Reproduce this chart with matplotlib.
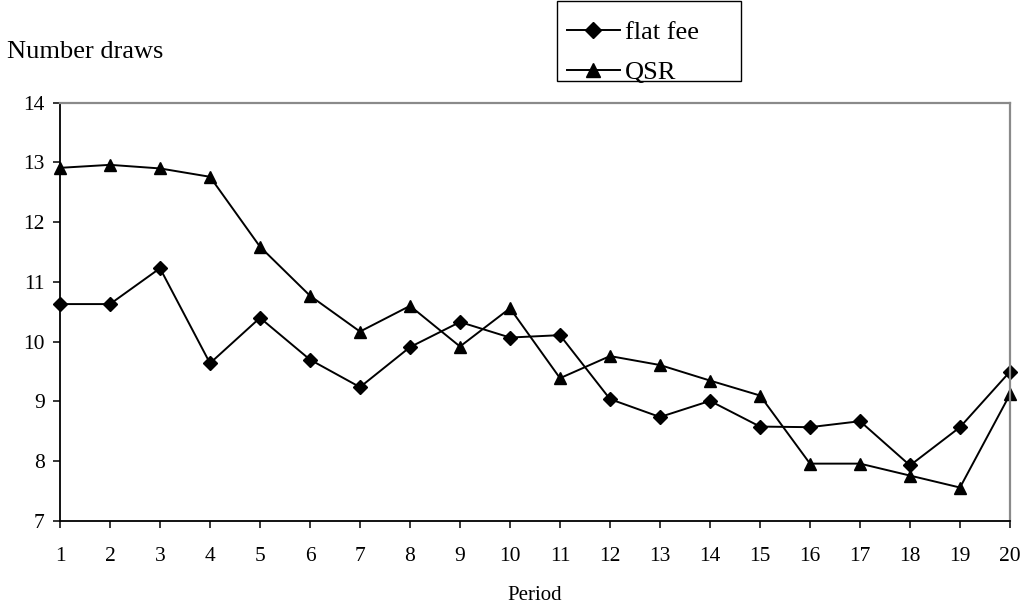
import matplotlib
matplotlib.use("Agg")
import matplotlib.pyplot as plt
from matplotlib.patches import Rectangle

periods = list(range(1, 21))
flat_fee = [10.63, 10.63, 11.23, 9.64, 10.40, 9.70, 9.24, 9.91, 10.33, 10.07,
            10.11, 9.04, 8.74, 9.01, 8.58, 8.57, 8.67, 7.93, 8.57, 9.50]
qsr = [12.91, 12.96, 12.90, 12.76, 11.59, 10.77, 10.17, 10.60, 9.92, 10.56,
       9.39, 9.76, 9.61, 9.35, 9.10, 7.96, 7.96, 7.76, 7.56, 9.12]
y_ticks = [7, 8, 9, 10, 11, 12, 13, 14]

plt.rcParams["font.family"] = ["Liberation Serif", "DejaVu Serif"]

W, H = 1026, 610
fig = plt.figure(figsize=(W / 100, H / 100), dpi=100)
ax = fig.add_axes([60 / W, (H - 521) / H, (1010 - 60) / W, (521 - 102.7) / H])

ax.plot(periods, flat_fee, color="black", lw=1.4, marker="D", ms=7.5,
        label="flat fee", clip_on=False)
ax.plot(periods, qsr, color="black", lw=1.4, marker="^", ms=9,
        label="QSR", clip_on=False)

ax.set_xlim(1, 20)
ax.set_ylim(7, 14)
ax.set_xticks(periods)
ax.set_yticks(y_ticks)
ax.tick_params(axis="both", direction="out", length=5, width=1.1,
               labelsize=15.5, colors="black")
ax.tick_params(axis="x", pad=14)
ax.tick_params(axis="y", pad=6)

for side in ("left", "bottom"):
    ax.spines[side].set_color("black")
    ax.spines[side].set_linewidth(1.3)
for side in ("top", "right"):
    ax.spines[side].set_color("#8a8a8a")
    ax.spines[side].set_linewidth(1.6)
for spine in ax.spines.values():
    spine.set_clip_on(False)

ax.set_xlabel("Period", fontsize=15, labelpad=14)

fig.text(7 / W, 1 - 52 / H, "Number draws", fontsize=19, va="center",
         ha="left")

# legend box with a wide right margin, kept behind the legend entries
fig.patches.append(Rectangle((557 / W, 1 - 80.7 / H), (741 - 557) / W,
                             80 / H, transform=fig.transFigure,
                             facecolor="white", edgecolor="black", lw=1.0,
                             zorder=-1))
leg = ax.legend(loc="upper left", bbox_to_anchor=(567 / W, 1 - 21 / H),
                bbox_transform=fig.transFigure, fontsize=19,
                frameon=False, handlelength=2.0, markerscale=1.15,
                handletextpad=0.2, labelspacing=0.6, borderpad=0,
                borderaxespad=0)

fig.savefig("out.png", dpi=100, facecolor="white")
